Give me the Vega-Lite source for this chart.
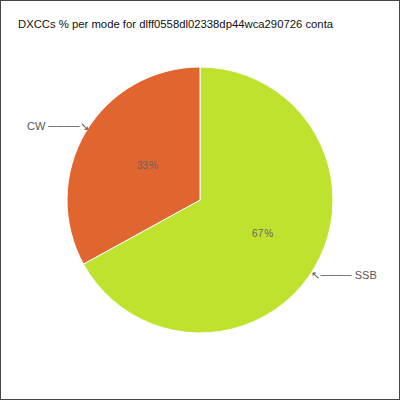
{
  "$schema": "https://vega.github.io/schema/vega-lite/v6.json",
  "width": 400,
  "height": 400,
  "padding": 0,
  "autosize": {"type": "fit", "contains": "padding"},
  "title": {
    "text": "DXCCs % per mode for dlff0558dl02338dp44wca290726 conta",
    "anchor": "start",
    "frame": "group",
    "offset": -30,
    "dx": 18,
    "font": "Liberation Sans",
    "fontSize": 11.3,
    "fontWeight": "normal",
    "color": "#111"
  },
  "view": {"stroke": "#444", "strokeWidth": 2},
  "config": {
    "view": {"stroke": "#444", "strokeWidth": 2},
    "font": "Liberation Sans"
  },
  "data": {
    "values": [
      {"mode": "SSB", "pct": 67},
      {"mode": "CW", "pct": 33}
    ]
  },
  "encoding": {
    "theta": {"field": "pct", "type": "quantitative", "stack": true},
    "order": {"field": "mode", "sort": "descending"}
  },
  "layer": [
    {
      "mark": {"type": "arc", "outerRadius": 133, "stroke": "#fff", "strokeWidth": 1},
      "encoding": {
        "color": {
          "field": "mode",
          "type": "nominal",
          "scale": {"domain": ["CW", "SSB"], "range": ["#e0652e", "#bfe22f"]},
          "legend": null
        }
      }
    },
    {
      "mark": {"type": "text", "radius": 67, "fontSize": 10, "color": "#666"},
      "encoding": {
        "text": {"field": "pct", "type": "quantitative", "format": ".0f"},
        "detail": {"field": "mode"}
      }
    },
    {
      "mark": {"type": "text", "radius": 67, "fontSize": 10, "color": "#666", "dx": 11},
      "encoding": {
        "text": {"value": "%"},
        "detail": {"field": "mode"}
      }
    },
    {
      "mark": {"type": "text", "radius": 133, "align": "right", "fontSize": 11, "color": "#555", "dx": 3, "dy": -5},
      "encoding": {
        "text": {"condition": {"test": "datum.mode == 'CW'", "value": "CW ────↘"}, "value": ""},
        "detail": {"field": "mode"}
      }
    },
    {
      "mark": {"type": "text", "radius": 133, "align": "left", "fontSize": 11, "color": "#555", "dx": -3, "dy": 8},
      "encoding": {
        "text": {"condition": {"test": "datum.mode == 'SSB'", "value": "↖──── SSB"}, "value": ""},
        "detail": {"field": "mode"}
      }
    }
  ]
}
